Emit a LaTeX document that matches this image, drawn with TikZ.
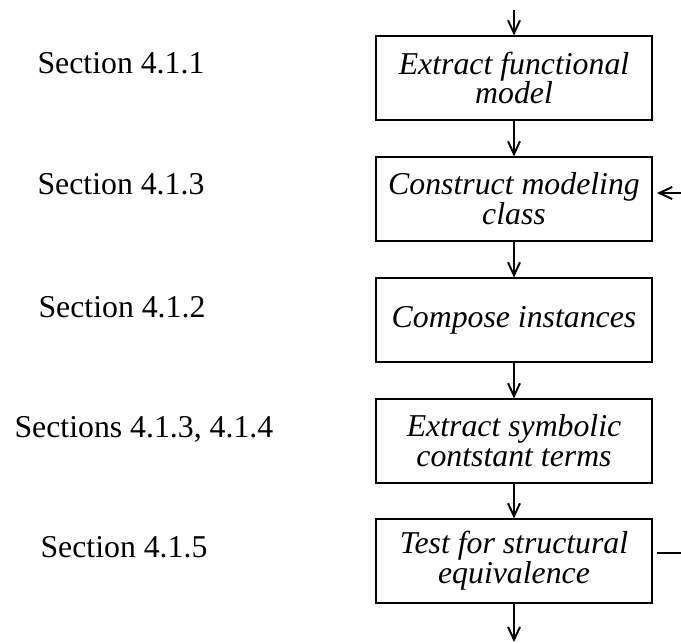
\documentclass[tikz,border=0pt]{standalone}
\usepackage{fontspec}
\setmainfont{Liberation Serif}
\usetikzlibrary{arrows.meta}
\begin{document}
\begin{tikzpicture}[x=0.0125cm, y=-0.0125cm,
  stepbox/.style={draw, line width=0.7pt, minimum width=3.45cm, minimum height=1.04cm,
    inner sep=0pt, align=center, font=\fontsize{11.3}{10.6}\selectfont\itshape},
  seclabel/.style={anchor=base west, inner sep=0pt, font=\fontsize{11.3}{13}\selectfont},
  flow/.style={line width=0.7pt, -{Straight Barb[length=1.6mm,width=1.5mm]}},
  plain/.style={line width=0.7pt}]

\useasboundingbox (0,0) rectangle (681,642);

\node[stepbox] (E) at (514,78) {Extract functional\\model};
\node[stepbox] (C) at (514,199) {Construct modeling\\class};
\node[stepbox] (P) at (514,320) {Compose instances};
\node[stepbox] (S) at (514,441) {Extract symbolic\\contstant terms};
\node[stepbox] (T) at (514,561) {Test for structural\\equivalence};

\node[seclabel] (lE) at (37,73) {Section 4.1.1};
\node[seclabel] (lC) at (37,194) {Section 4.1.3};
\node[seclabel] (lP) at (38,317) {Section 4.1.2};
\node[seclabel] (lS) at (14,437) {Sections 4.1.3, 4.1.4};
\node[seclabel] (lT) at (40,557) {Section 4.1.5};

\coordinate (start) at (514,10);
\coordinate (back) at (681,193);
\coordinate (out) at (681,553);
\coordinate (end) at (514,642);

\draw[flow] (start) -- (E);
\draw[flow] (E) -- (C);
\draw[flow] (C) -- (P);
\draw[flow] (P) -- (S);
\draw[flow] (S) -- (T);
\draw[flow] (T) -- (end);
\draw[flow, shorten >=0.05cm] (back) -- (C.east |- back);
\draw[plain, shorten <=0.05cm] (T.east |- out) -- (out);

\end{tikzpicture}
\end{document}
